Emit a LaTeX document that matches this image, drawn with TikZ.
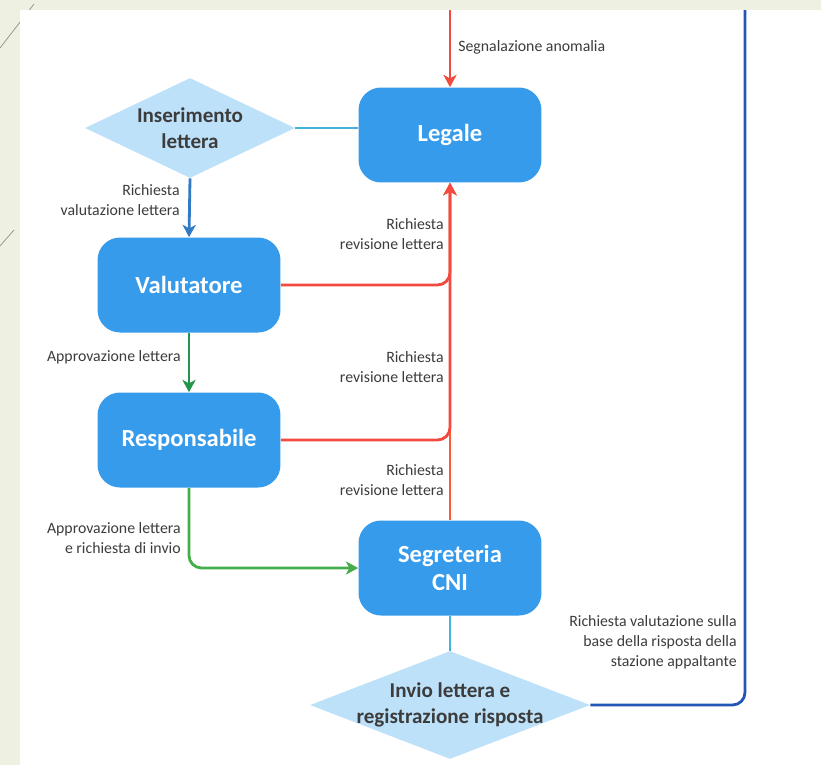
\documentclass[tikz,border=0pt]{standalone}
\usepackage{fontspec}
\setmainfont{Carlito}
\usepackage{xcolor}
\usepackage{tikz}
\usetikzlibrary{arrows.meta}
\usetikzlibrary{shapes.geometric}
\definecolor{boxblue}{HTML}{379BEB}
\definecolor{diablue}{HTML}{BEE1FA}
\definecolor{txtgray}{HTML}{3C3C3C}
\definecolor{pagebg}{HTML}{EEF1E2}
\definecolor{redline}{HTML}{F24A3E}
\definecolor{orgline}{HTML}{FF5A36}
\definecolor{cyanline}{HTML}{45B2DE}
\definecolor{navyline}{HTML}{2356B4}
\definecolor{greenline}{HTML}{5BBE4A}
\definecolor{dkgreen}{HTML}{23954A}
\tikzset{>={Stealth[length=7pt,width=7.5pt,inset=2pt]}}
\tikzstyle{role} = [rectangle, rounded corners=0.45cm, fill=boxblue, text=white, minimum width=3.66cm, minimum height=1.9cm, align=center, font=\fontsize{14}{16}\selectfont\bfseries]
\tikzstyle{choice} = [diamond, fill=diablue, text=txtgray, inner sep=0pt, align=center, font=\fontsize{12}{14.5}\selectfont\bfseries]
\tikzstyle{lbl} = [draw=none, text=txtgray, inner sep=0pt, anchor=east, align=right, font=\fontsize{9}{11.3}\selectfont]
\tikzstyle{flow} = [line width=1.6pt]

\begin{document}
\begin{tikzpicture}[x=0.02cm, y=-0.02cm]
\useasboundingbox (0,0) rectangle (821,765);
\fill [pagebg] (0,0) rectangle (821,765);
\draw [pagebg!60!black, thin] (0,48) -- (34,4);
\draw [pagebg!60!black, thin] (0,246) -- (14,230);
\fill [white] (20,10) rectangle (821,765);

\node [role] (L) at (450,135) {Legale};
\node [role] (V) at (189,285) {Valutatore};
\node [role] (R) at (189,440) {Responsabile};
\node [role] (S) at (450,568) {Segreteria\\CNI};
\node [choice, shape aspect=2.1, minimum width=4.2cm, minimum height=2cm] (I) at (190,128) {Inserimento\\lettera};
\node [choice, shape aspect=2.6, minimum width=5.6cm, minimum height=2.16cm, inner xsep=-8pt] (D) at (450,705) {Invio lettera e\\registrazione risposta};

\coordinate (in) at (450,10);
\coordinate (out) at (745,10);

\draw [flow, ->, draw=redline] (in) -- (L.north);
\draw [flow, draw=cyanline] (I.east) -- (I.east -| L.west);
\draw [flow, ->, draw=navyline!60!cyanline] (I.south) -- (V.north);
\draw [flow, ->, draw=orgline] (S.north) -- (L.south);
\draw [flow, ->, draw=redline, rounded corners=0.25cm] (V.east) -| (L.south);
\draw [flow, ->, draw=redline, rounded corners=0.25cm] (R.east) -| (L.south);
\draw [flow, ->, draw=dkgreen] (V.south) -- (R.north);
\draw [flow, ->, draw=greenline!60!dkgreen, rounded corners=0.25cm] (R.south) |- (S.west);
\draw [flow, draw=cyanline] (S.south) -- (D.north);
\draw [flow, draw=navyline, rounded corners=0.25cm] (D.east) -| (out);

\node [lbl, anchor=west] (lA) at (458,47) {Segnalazione anomalia};
\node [lbl] (lB) at (180,200) {Richiesta\\valutazione lettera};
\node [lbl] (lC) at (444,234) {Richiesta\\revisione lettera};
\node [lbl] (lD) at (444,367) {Richiesta\\revisione lettera};
\node [lbl] (lE) at (444,480) {Richiesta\\revisione lettera};
\node [lbl] (lF) at (181,357) {Approvazione lettera};
\node [lbl] (lG) at (181,538) {Approvazione lettera\\e richiesta di invio};
\node [lbl] (lH) at (737,642) {Richiesta valutazione sulla\\base della risposta della\\stazione appaltante};
\end{tikzpicture}
\end{document}
